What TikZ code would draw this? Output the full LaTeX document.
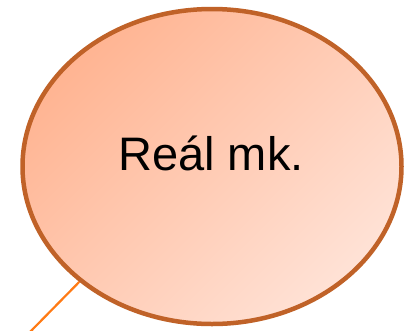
\documentclass[tikz,border=0pt]{standalone}
\usepackage{fontspec}
\setmainfont{Liberation Sans}
\usetikzlibrary{shapes.geometric}
\definecolor{rimbrown}{RGB}{192,98,40}
\definecolor{peachdark}{RGB}{255,180,146}
\definecolor{peachlight}{RGB}{255,226,214}
\definecolor{leadorange}{RGB}{255,122,20}
\tikzset{bubble/.style={ellipse, draw=rimbrown, line width=4.5pt,
  minimum width=379pt, minimum height=315pt, inner sep=0pt,
  top color=peachdark, bottom color=peachlight, shading angle=45}}

\begin{document}
\begin{tikzpicture}[x=1pt, y=-1pt]
  \useasboundingbox (0,0) rectangle (409,330);
  \node[bubble] (ell) at (212,166.5) {};
  \node[anchor=base, font=\fontsize{47}{52}\selectfont] (txt) at (211,170) {Reál mk.};
  % leader line to the bubble
  \coordinate (tail) at (29,333);
  \draw[leadorange, line width=2.2pt] (tail) -- (ell.221);
\end{tikzpicture}
\end{document}
